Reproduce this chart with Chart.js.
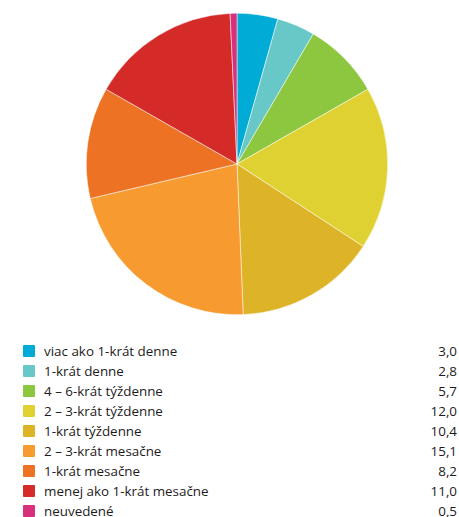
<!DOCTYPE html>
<html>
<head>
<meta charset="utf-8">
<script src="https://cdn.jsdelivr.net/npm/chart.js@4.4.0/dist/chart.umd.min.js"></script>
<style>
  html, body { margin: 0; padding: 0; background: #fff; }
  body { width: 459px; height: 517px; position: relative; overflow: hidden; font-family: "Open Sans", sans-serif; }
  #pieBox { position: absolute; left: 86px; top: 13px; width: 302px; height: 302px; }
  #legend { position: absolute; left: 23px; top: 341px; width: 434px; }
  .row { position: relative; height: 20px; line-height: 20px; font-size: 13.4px; color: #1e1b1c; }
  .sw { position: absolute; left: 0; top: 4px; width: 12px; height: 12px; border-radius: 1px; }
  .lab { position: absolute; left: 21px; top: 0; white-space: nowrap; }
  .val { position: absolute; right: 0; top: 0; }
</style>
</head>
<body>
<div id="pieBox"><canvas id="pie"></canvas></div>
<div id="legend"></div>
<script>
// Frequency categories and their shares
const categories = [
  "viac ako 1-krát denne",
  "1-krát denne",
  "4 – 6-krát týždenne",
  "2 – 3-krát týždenne",
  "1-krát týždenne",
  "2 – 3-krát mesačne",
  "1-krát mesačne",
  "menej ako 1-krát mesačne",
  "neuvedené"
];
const values = [3.0, 2.8, 5.7, 12.0, 10.4, 15.1, 8.2, 11.0, 0.5];
const colors = [
  "#00abd6", "#67c8c7", "#8dc63f", "#dfd132", "#ddb327",
  "#f79a2f", "#ee7223", "#d42a28", "#d9307b"
];

new Chart(document.getElementById("pie"), {
  type: "pie",
  data: {
    labels: categories,
    datasets: [{
      data: values,
      backgroundColor: colors,
      borderColor: "#ffffff",
      borderWidth: 0.5
    }]
  },
  options: {
    responsive: true,
    maintainAspectRatio: false,
    animation: false,
    layout: { padding: 0 },
    plugins: {
      legend: { display: false },
      tooltip: { enabled: false }
    }
  }
});

// Legend with values, built from the same arrays
const legend = document.getElementById("legend");
categories.forEach((name, i) => {
  const row = document.createElement("div");
  row.className = "row";
  const sw = document.createElement("span");
  sw.className = "sw";
  sw.style.background = colors[i];
  const lab = document.createElement("span");
  lab.className = "lab";
  lab.textContent = name;
  const val = document.createElement("span");
  val.className = "val";
  val.textContent = values[i].toFixed(1).replace(".", ",");
  row.append(sw, lab, val);
  legend.appendChild(row);
});
</script>
</body>
</html>
